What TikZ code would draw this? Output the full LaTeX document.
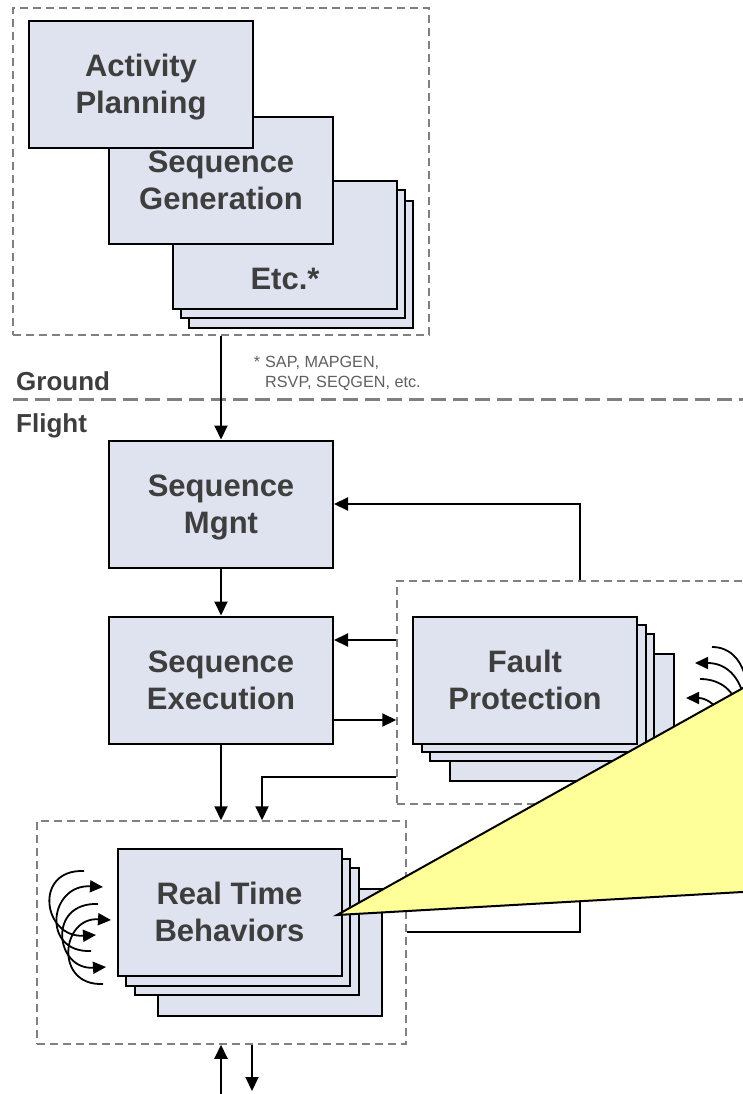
\documentclass[tikz,border=0pt]{standalone}
\usepackage{fontspec}
\setmainfont{Liberation Sans}
\usetikzlibrary{arrows.meta}
\definecolor{boxfill}{RGB}{223,227,239}
\definecolor{txt}{RGB}{62,62,62}
\definecolor{notetxt}{RGB}{95,95,95}
\definecolor{dashgray}{RGB}{128,128,128}
\definecolor{calloutfill}{RGB}{255,255,153}
\begin{document}
\begin{tikzpicture}[x=1pt,y=-1pt,
  blk/.style={draw=black, line width=2pt, fill=boxfill, minimum width=224pt, minimum height=127pt, inner sep=0pt, align=center, font=\fontsize{31}{37}\selectfont\bfseries, text=txt,
    text height=65pt, text depth=6.6pt},
  lbl/.style={inner sep=0pt, align=center, font=\fontsize{31}{37}\selectfont\bfseries, text=txt},
  grp/.style={draw=dashgray, line width=1.5pt, dash pattern=on 8pt off 5pt, inner sep=0pt},
  side/.style={inner sep=0pt, anchor=base west, font=\fontsize{26}{30}\selectfont\bfseries, text=txt},
  note/.style={inner sep=0pt, anchor=base west, align=left, font=\fontsize{16.2}{20}\selectfont, text=notetxt},
  conn/.style={line width=2pt, -{Triangle[length=14pt,width=13pt]}},
  plain/.style={line width=2pt},
  swirl/.style={line width=1.8pt, -{Triangle[length=13pt,width=12pt]}},
  swirlfree/.style={line width=1.8pt},
  ]
\useasboundingbox (0,0) rectangle (743,1094);
\clip (0,0) rectangle (743,1094);

% ground / flight separator
\coordinate (sepL) at (13,399.5);
\coordinate (sepR) at (760,399.5);
\draw[dashgray, line width=2.5pt, dash pattern=on 15pt off 7pt] (sepL) -- (sepR);
\node[side] (ground) at (16,390) {Ground};
\node[side] (flight) at (16,432) {Flight};
\node[note] (foot) at (265,387) {\llap{*\hspace{5pt}}SAP, MAPGEN,\\RSVP, SEQGEN, etc.};

% dashed groups
\node[grp, minimum width=416pt, minimum height=327pt] (groundgrp) at (221,171.5) {};
\node[grp, minimum width=373pt, minimum height=223pt] (faultgrp) at (583.5,692.5) {};
\node[grp, minimum width=369pt, minimum height=223pt] (rtgrp) at (221.5,932.5) {};

% ground stack
\node[blk] (etc3) at (301,264) {};
\node[blk] (etc2) at (293,254) {};
\node[blk] (etc) at (285,245) {};
\node[lbl] (etclbl) at (285,279) {Etc.*};
\node[blk] (seqgen) at (221,180.5) {Sequence\\Generation};
\node[blk] (actplan) at (141,84.5) {Activity\\Planning};

% flight
\node[blk] (mgnt) at (221,504) {Sequence\\Mgnt};
\node[blk] (exec) at (221,680) {Sequence\\Execution};

\node[blk] (fp4) at (562,717) {};
\node[blk] (fp3) at (541.5,697) {};
\node[blk] (fp2) at (533.5,688) {};
\node[blk] (fp) at (525,680) {Fault\\Protection};

\node[blk] (rt4) at (269.5,952) {};
\node[blk] (rt3) at (246.5,931) {};
\node[blk] (rt2) at (237.5,922) {};
\node[blk] (rt) at (229.5,912) {Real Time\\Behaviors};

% helper coordinates
\coordinate (fpx) at (580,504);
\coordinate (y640) at (0,640);
\coordinate (y720) at (0,720);
\coordinate (y777) at (0,777);
\coordinate (y932) at (0,932);
\coordinate (x262) at (262,0);
\coordinate (inB) at (221,1096);
\coordinate (outB) at (252,1091);

% connectors
\draw[conn] (groundgrp.south) -- (mgnt.north);
\draw[conn] (mgnt.south) -- (exec.north);
\draw[conn] (fpx |- faultgrp.north) |- (mgnt.east);
\draw[conn] (faultgrp.west |- y640) -- (exec.east |- y640);
\draw[conn] (exec.east |- y720) -- (faultgrp.west |- y720);
\draw[conn] (exec.south) -- (exec.south |- rtgrp.north);
\draw[conn] (faultgrp.west |- y777) -| (x262 |- rtgrp.north);
\draw[plain] (rtgrp.east |- y932) -| (fpx |- faultgrp.south);
\draw[conn] (inB) -- (inB |- rtgrp.south);
\draw[conn] (outB |- rtgrp.south) -- (outB);

% self loops of Real Time Behaviors
\draw[swirl] (84,871) .. controls (33,869) and (43,938) .. (96,935);
\draw[swirl] (91,951) .. controls (41,953) and (49,884) .. (103,887);
\draw[swirl] (98,904) .. controls (47,902) and (55,970) .. (106,967);
\draw[swirl] (103,984) .. controls (54,986) and (61,917) .. (111,920);

% loops at the right (partly hidden)
\draw[swirlfree] (712,647) .. controls (730,647) and (745,660) .. (748,692);
\draw[swirl] (745,702) .. controls (740,675) and (725,663) .. (695,663);
\draw[swirlfree] (700,679) .. controls (718,679) and (732,688) .. (738,706);
\draw[swirl] (722,716) .. controls (715,703) and (705,698) .. (686,698);

% callout
\coordinate (tip) at (337,915);
\coordinate (cu) at (760,678.5);
\coordinate (cl) at (760,891);
\fill[calloutfill] (tip) -- (cu) -- (cl) -- cycle;
\draw[plain, line join=miter] (cu) -- (tip) -- (cl);
\end{tikzpicture}
\end{document}
